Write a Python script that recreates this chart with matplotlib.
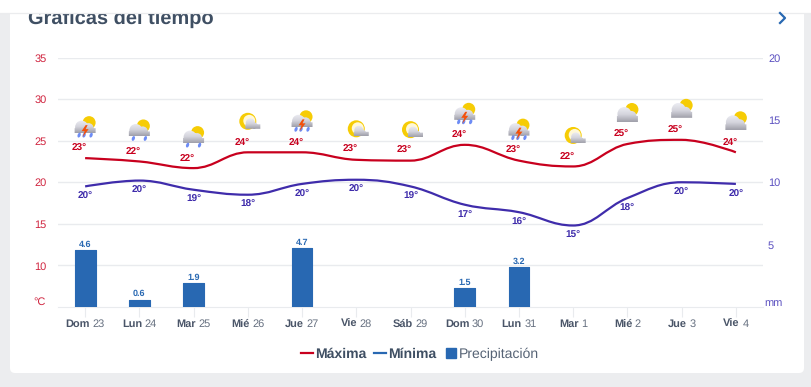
import matplotlib
matplotlib.use('Agg')
import matplotlib.pyplot as plt
import numpy as np
from matplotlib.lines import Line2D
from matplotlib.patches import Circle, Ellipse, FancyBboxPatch, PathPatch, Polygon, Rectangle
from matplotlib.path import Path

plt.rcParams['font.family'] = ['Liberation Sans', 'DejaVu Sans']
plt.rcParams['text.hinting'] = 'no_hinting'
plt.rcParams['text.hinting_factor'] = 1

days = ['Dom', 'Lun', 'Mar', 'Mié', 'Jue', 'Vie', 'Sáb', 'Dom', 'Lun', 'Mar', 'Mié', 'Jue', 'Vie']
dates = ['23', '24', '25', '26', '27', '28', '29', '30', '31', '1', '2', '3', '4']
tmax = [22.9, 22.5, 21.7, 23.6, 23.6, 22.7, 22.6, 24.5, 22.6, 21.9, 24.6, 25.1, 23.6]
tmin = [19.5, 20.2, 19.1, 18.5, 19.8, 20.3, 19.5, 17.3, 16.4, 14.8, 18.1, 20.0, 19.8]
tmax_labels = [23, 22, 22, 24, 24, 23, 23, 24, 23, 22, 25, 25, 24]
tmin_labels = [20, 20, 19, 18, 20, 20, 19, 17, 16, 15, 18, 20, 20]
rain = [4.6, 0.6, 1.9, 0, 4.7, 0, 0, 1.5, 3.2, 0, 0, 0, 0]
icons = ['storm', 'rain', 'rain', 'sun', 'storm', 'sun', 'sun', 'storm', 'storm', 'sun', 'cloud', 'cloud', 'cloud']

RED = '#c8001e'
INDIGO = '#3f2cab'
BLUE = '#2868b2'
GRID = '#e9ebee'
W, H = 811, 387
PX = 0.72  # one pixel in points at dpi 100


def spline_path(xs, ys):
    # same smoothing as a highcharts spline
    verts = [(xs[0], ys[0])]
    codes = [Path.MOVETO]
    n = len(xs)
    conts = []
    for i in range(n):
        if i == 0 or i == n - 1:
            conts.append((xs[i], ys[i], xs[i], ys[i]))
            continue
        lx = (1.5 * xs[i] + xs[i - 1]) / 2.5
        ly = (1.5 * ys[i] + ys[i - 1]) / 2.5
        rx = (1.5 * xs[i] + xs[i + 1]) / 2.5
        ry = (1.5 * ys[i] + ys[i + 1]) / 2.5
        c = (ry - ly) * (rx - xs[i]) / (rx - lx) + ys[i] - ry
        ly += c
        ry += c
        if ly > ys[i - 1] and ly > ys[i]:
            ly = max(ys[i - 1], ys[i])
            ry = 2 * ys[i] - ly
        elif ly < ys[i - 1] and ly < ys[i]:
            ly = min(ys[i - 1], ys[i])
            ry = 2 * ys[i] - ly
        if ry > ys[i + 1] and ry > ys[i]:
            ry = max(ys[i + 1], ys[i])
            ly = 2 * ys[i] - ry
        elif ry < ys[i + 1] and ry < ys[i]:
            ry = min(ys[i + 1], ys[i])
            ly = 2 * ys[i] - ry
        conts.append((lx, ly, rx, ry))
    for i in range(1, n):
        verts += [(conts[i - 1][2], conts[i - 1][3]), (conts[i][0], conts[i][1]), (xs[i], ys[i])]
        codes += [Path.CURVE4] * 3
    return Path(verts, codes)


fig = plt.figure(figsize=(W / 100, H / 100), dpi=100, facecolor='#ecedef')

# card behind the chart
bg = fig.add_axes([0, 0, 1, 1], zorder=0)
bg.set_xlim(0, W)
bg.set_ylim(H, 0)
bg.axis('off')
bg.add_patch(FancyBboxPatch((10, -20), 794, 393, boxstyle='round,pad=0,rounding_size=5', fc='white', ec='none'))

ax = fig.add_axes([58 / W, 1 - 307 / H, 705 / W, 249.5 / H], zorder=1)
ax.patch.set_alpha(0)
x = np.arange(len(days))
ax.set_xlim(-0.5, len(days) - 0.5)
ax.set_ylim(5, 35)
ax.set_yticks([10, 15, 20, 25, 30, 35])
ax.tick_params(axis='y', length=0, labelsize=7.9, labelcolor='#d0243f', pad=8)
ax.grid(axis='y', color=GRID, lw=1)
ax.set_axisbelow(True)
for s in ax.spines.values():
    s.set_visible(False)
ax.spines['bottom'].set_visible(True)
ax.spines['bottom'].set_color(GRID)
ax.set_xticks(x)
ax.set_xticklabels([])
ax.tick_params(axis='x', length=10 * PX, width=0.8, color=GRID)
ax.text(-0.017, 5.6, '°C', transform=ax.get_yaxis_transform(), ha='right', va='center', fontsize=7.9, color='#d0243f')

ax.add_patch(PathPatch(spline_path(x, tmax), fc='none', ec=RED, lw=1.6))
ax.add_patch(PathPatch(spline_path(x, tmin), fc='none', ec=INDIGO, lw=1.6))

for i in x:
    ax.annotate(f'{tmax_labels[i]}°', (i, tmax[i]), xytext=(-6 * PX, 10 * PX), textcoords='offset points',
                ha='center', va='center', fontsize=7, fontweight='bold', color=RED)
    ax.annotate(f'{tmin_labels[i]}°', (i, tmin[i]), xytext=(0, -10 * PX), textcoords='offset points',
                ha='center', va='center', fontsize=7, fontweight='bold', color=INDIGO)

ax2 = ax.twinx()
ax2.set_ylim(0, 20)
ax2.set_yticks([5, 10, 15, 20])
ax2.tick_params(axis='y', length=0, labelsize=7.9, labelcolor='#5a4fc0', pad=3.6)
for s in ax2.spines.values():
    s.set_visible(False)
bars = ax2.bar(x, rain, width=0.385, color=BLUE)
for b, v in zip(bars, rain):
    if v > 0:
        b.set(edgecolor=BLUE, linewidth=0.8, joinstyle='round')
        ax2.annotate(f'{v}', (b.get_x() + b.get_width() / 2, v), xytext=(0, 5.5 * PX), textcoords='offset points',
                     ha='center', va='center', fontsize=6.8, fontweight='bold', color=BLUE)
ax2.text(1.002, 0.3, 'mm', transform=ax2.get_yaxis_transform(), ha='left', va='center', fontsize=7.6, color='#5a4fc0')

# overlay in pixel coordinates: header, title, icons
top = fig.add_axes([0, 0, 1, 1], zorder=3)
top.set_xlim(0, W)
top.set_ylim(H, 0)
top.axis('off')
top.text(28, 18.5, 'Gráficas del tiempo', fontsize=14.3, fontweight='bold', color='#3f4f63', ha='left', va='center', zorder=1)
top.add_patch(Rectangle((0, 0), W, 13, fc='white', ec='none', zorder=2))
top.plot([0, W], [13, 13], color='#ebecee', lw=0.9, zorder=3)
top.plot([780, 785, 780], [13, 18, 23], color=BLUE, lw=1.6, zorder=3)

gradient = np.linspace(0, 1, 32).reshape(-1, 1)
cloud_cmap = matplotlib.colors.LinearSegmentedColormap.from_list('cl', ['#ecedf3', '#d4d4dc', '#a0a0aa'])


def cloud(cx, cy, parts, base):
    paths = [Path.circle((cx + a, cy + b), r) for a, b, r in parts]
    x0, x1, y0, y1 = base
    paths.append(Path([(cx + x0, cy + y0), (cx + x1, cy + y0), (cx + x1, cy + y1), (cx + x0, cy + y1), (cx + x0, cy + y0)],
                      [Path.MOVETO, Path.LINETO, Path.LINETO, Path.LINETO, Path.CLOSEPOLY]))
    patch = PathPatch(Path.make_compound_path(*paths), fc='none', ec='none', transform=top.transData, zorder=4)
    top.add_patch(patch)
    ys = [cy + b - r for a, b, r in parts]
    im = top.imshow(gradient, cmap=cloud_cmap, aspect='auto', zorder=5,
                    extent=(cx - 14, cx + 14, cy + y1, min(ys)))
    im.set_clip_path(patch)


def drop(cx, cy):
    top.add_patch(Ellipse((cx, cy), 3, 5, angle=20, fc='#6d8cf5', ec='none', zorder=6))


def draw_icon(kind, cx, cy):
    if kind == 'sun':
        top.add_patch(Circle((cx, cy), 8.5, fc='#f6cc05', ec='none', zorder=4))
        top.add_patch(Circle((cx + 1.5, cy - 0.5), 6, fc='#fff8d8', ec='none', zorder=4))
        cloud(cx + 3.5, cy + 2, [(-1, -0.5, 4.5), (3, 2, 3)], (-6, 9, 1, 5.5))
        return
    if kind == 'cloud':
        top.add_patch(Circle((cx + 4.5, cy - 3.5), 6.5, fc='#f6cc05', ec='none', zorder=4))
        cloud(cx, cy, [(-3, 1, 7), (4, 3, 5)], (-10.5, 10.5, 3, 9))
        return
    top.add_patch(Circle((cx + 4, cy - 4.5), 6.5, fc='#f6cc05', ec='none', zorder=4))
    cloud(cx, cy, [(-3.5, 0, 6.5), (3.5, 1, 5)], (-10.5, 10.5, 1, 6))
    drop(cx - 6, cy + 8)
    drop(cx + 6, cy + 8)
    if kind == 'storm':
        drop(cx - 1, cy + 8)
        top.add_patch(Polygon([(cx + 0.5, cy - 2), (cx - 3.5, cy + 4), (cx - 0.5, cy + 4), (cx - 2.5, cy + 10),
                               (cx + 3.5, cy + 2), (cx + 0.5, cy + 2), (cx + 2.5, cy - 2)],
                              fc='#f4500a', ec='none', zorder=7))


for i in x:
    px, py = ax.transData.transform((i, tmax[i]))
    draw_icon(icons[i], px, H - py - 31)

top.set_xlim(0, W)
top.set_ylim(H, 0)

# x labels, weekday bold and date normal
fig.canvas.draw()
rend = fig.canvas.get_renderer()
for i in x:
    px = ax.transData.transform((i, 5))[0]
    a = top.text(px, 327.3, days[i], fontsize=7.7, fontweight='bold', color='#4a5568', ha='left', va='baseline')
    b = top.text(px, 327.3, dates[i], fontsize=7.7, color='#667080', ha='left', va='baseline')
    wa = a.get_window_extent(rend).width + 2.5
    wb = b.get_window_extent(rend).width
    a.set_x(px - (wa + wb) / 2)
    b.set_x(px - (wa + wb) / 2 + wa)

handles = [Line2D([], [], color=RED, lw=1.6),
           Line2D([], [], color=BLUE, lw=1.6),
           Line2D([], [], color=BLUE, marker='s', ms=6.6, ls='none')]
leg = fig.legend(handles, ['Máxima', 'Mínima', 'Precipitación'], ncol=3, frameon=False, fontsize=10.1,
                 handlelength=0.85, handletextpad=0.15, columnspacing=0.6, borderpad=0, borderaxespad=0,
                 loc='center', bbox_to_anchor=(420 / W, 1 - 354 / H))
for t, w, c in zip(leg.get_texts(), ['bold', 'bold', 'normal'], ['#3f4f63', '#3f4f63', '#566375']):
    t.set_fontweight(w)
    t.set_color(c)
leg.set_zorder(5)

fig.savefig('out.png', dpi=100, facecolor=fig.get_facecolor())
